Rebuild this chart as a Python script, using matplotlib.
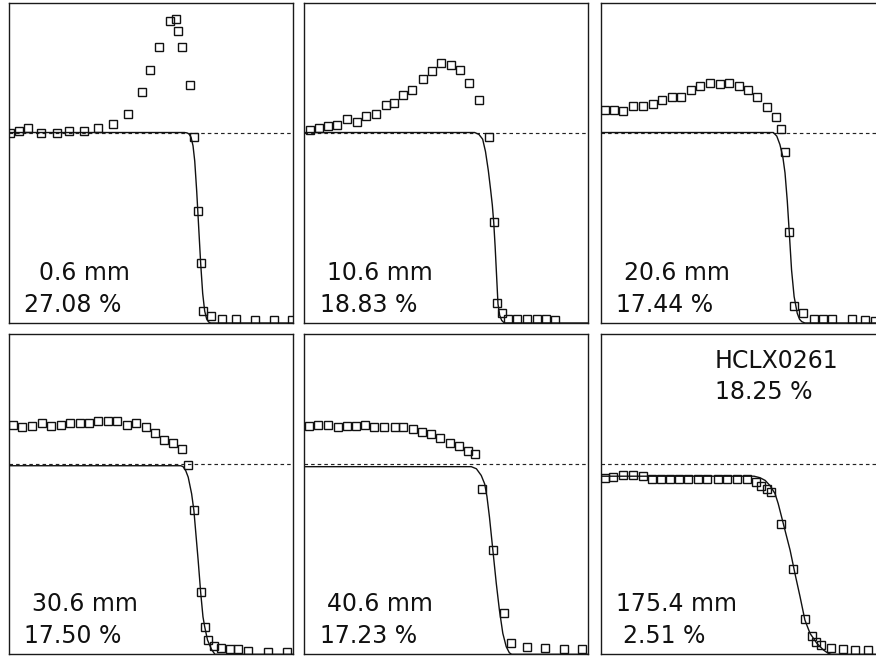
import matplotlib
matplotlib.use("Agg")
import matplotlib.pyplot as plt

plt.rcParams['font.family'] = ['DejaVu Sans']

# ---------------- data (x = fraction of scan width, y = relative level) ----------------
depth_labels = ["0.6 mm", "10.6 mm", "20.6 mm", "30.6 mm", "40.6 mm", "175.4 mm"]
pct_labels = ["27.08 %", "18.83 %", "17.44 %", "17.50 %", "17.23 %", "2.51 %"]
title_label = "HCLX0261"
title_pct = "18.25 %"
ref_level = 1.0

p1_x = [0.004, 0.035, 0.068, 0.111, 0.168, 0.211, 0.265, 0.315, 0.365, 0.418, 0.468, 0.498, 0.527, 0.566,
        0.588, 0.596, 0.609, 0.636, 0.651, 0.666, 0.675, 0.684, 0.710, 0.749, 0.798, 0.867, 0.932, 0.995]
p1_y = [1.000, 1.009, 1.025, 1.000, 1.000, 1.009, 1.009, 1.025, 1.046, 1.096, 1.214, 1.326, 1.451, 1.584,
        1.598, 1.533, 1.451, 1.251, 0.975, 0.590, 0.317, 0.065, 0.037, 0.019, 0.019, 0.014, 0.014, 0.014]
c1_x = [0.0, 0.618, 0.627, 0.634, 0.641, 0.648, 0.654, 0.661, 0.668, 0.675, 0.682, 0.689, 0.696, 0.703, 0.710, 1.0]
c1_y = [1.0, 1.0, 0.998, 0.992, 0.975, 0.93, 0.85, 0.69, 0.50, 0.31, 0.155, 0.063, 0.021, 0.005, 0.0, 0.0]

p2_x = [0.020, 0.052, 0.084, 0.114, 0.152, 0.184, 0.217, 0.251, 0.286, 0.316, 0.349, 0.379, 0.417, 0.448,
        0.482, 0.516, 0.548, 0.581, 0.616, 0.650, 0.667, 0.679, 0.696, 0.717, 0.749, 0.783, 0.818, 0.851, 0.881]
p2_y = [1.014, 1.026, 1.032, 1.039, 1.070, 1.053, 1.089, 1.098, 1.142, 1.154, 1.195, 1.225, 1.282, 1.321,
        1.365, 1.356, 1.326, 1.260, 1.172, 0.977, 0.528, 0.107, 0.051, 0.023, 0.019, 0.019, 0.019, 0.019, 0.014]
c2_x = [0.0, 0.600, 0.615, 0.628, 0.638, 0.648, 0.656, 0.662, 0.667, 0.672, 0.677, 0.682, 0.688, 0.695, 0.704, 1.0]
c2_y = [1.0, 1.0, 0.99, 0.965, 0.90, 0.80, 0.70, 0.62, 0.528, 0.40, 0.25, 0.10, 0.04, 0.014, 0.0, 0.0]

p3_x = [0.015, 0.047, 0.080, 0.115, 0.150, 0.183, 0.215, 0.250, 0.282, 0.317, 0.350, 0.385, 0.420, 0.452,
        0.486, 0.518, 0.549, 0.585, 0.616, 0.635, 0.650, 0.664, 0.679, 0.712, 0.750, 0.782, 0.816, 0.885,
        0.929, 0.966]
p3_y = [1.119, 1.119, 1.114, 1.137, 1.140, 1.151, 1.172, 1.189, 1.189, 1.225, 1.242, 1.260, 1.256, 1.260,
        1.246, 1.225, 1.186, 1.133, 1.084, 1.019, 0.897, 0.477, 0.089, 0.052, 0.021, 0.019, 0.019, 0.019,
        0.014, 0.011]
c3_x = [0.0, 0.608, 0.620, 0.631, 0.641, 0.649, 0.657, 0.664, 0.672, 0.681, 0.692, 0.700, 0.708, 0.719, 1.0]
c3_y = [1.0, 1.0, 0.981, 0.937, 0.875, 0.788, 0.64, 0.475, 0.279, 0.139, 0.051, 0.02, 0.007, 0.0, 0.0]

p4_x = [0.013, 0.047, 0.082, 0.116, 0.148, 0.182, 0.216, 0.249, 0.280, 0.314, 0.347, 0.381, 0.415, 0.448,
        0.481, 0.513, 0.545, 0.578, 0.608, 0.630, 0.650, 0.675, 0.690, 0.699, 0.722, 0.748, 0.777, 0.807,
        0.842, 0.912, 0.979]
p4_y = [1.204, 1.192, 1.201, 1.213, 1.201, 1.206, 1.213, 1.213, 1.213, 1.227, 1.227, 1.227, 1.204, 1.213,
        1.192, 1.162, 1.127, 1.110, 1.079, 0.996, 0.755, 0.325, 0.142, 0.077, 0.042, 0.031, 0.028, 0.026,
        0.019, 0.014, 0.014]
c4_x = [0.0, 0.605, 0.613, 0.622, 0.631, 0.643, 0.651, 0.666, 0.675, 0.683, 0.689, 0.699, 0.713, 0.725, 1.0]
c4_y = [0.99, 0.99, 0.985, 0.965, 0.930, 0.843, 0.755, 0.494, 0.323, 0.197, 0.145, 0.075, 0.026, 0.0, 0.0]

p5_x = [0.016, 0.049, 0.082, 0.117, 0.149, 0.181, 0.214, 0.247, 0.280, 0.319, 0.349, 0.382, 0.413, 0.446,
        0.478, 0.514, 0.546, 0.577, 0.601, 0.625, 0.664, 0.703, 0.729, 0.783, 0.848, 0.913, 0.977]
p5_y = [1.201, 1.206, 1.206, 1.192, 1.201, 1.201, 1.206, 1.192, 1.192, 1.192, 1.192, 1.183, 1.169, 1.154,
        1.136, 1.110, 1.093, 1.066, 1.052, 0.868, 0.546, 0.215, 0.061, 0.040, 0.031, 0.028, 0.028]
c5_x = [0.0, 0.588, 0.606, 0.623, 0.635, 0.643, 0.652, 0.664, 0.676, 0.687, 0.699, 0.711, 0.722, 0.730, 1.0]
c5_y = [0.985, 0.985, 0.974, 0.939, 0.895, 0.83, 0.72, 0.546, 0.372, 0.232, 0.110, 0.040, 0.008, 0.0, 0.0]

p6_x = [0.015, 0.045, 0.080, 0.115, 0.148, 0.180, 0.211, 0.244, 0.276, 0.309, 0.344, 0.376, 0.412, 0.446,
        0.479, 0.514, 0.546, 0.563, 0.585, 0.599, 0.636, 0.676, 0.719, 0.745, 0.757, 0.776, 0.812, 0.854,
        0.896, 0.942]
p6_y = [0.925, 0.930, 0.939, 0.942, 0.934, 0.921, 0.921, 0.921, 0.921, 0.921, 0.921, 0.921, 0.918, 0.918,
        0.918, 0.918, 0.904, 0.883, 0.866, 0.852, 0.682, 0.448, 0.184, 0.098, 0.066, 0.049, 0.031, 0.026,
        0.023, 0.023]
c6_x = [0.0, 0.540, 0.561, 0.579, 0.596, 0.614, 0.625, 0.637, 0.649, 0.667, 0.684, 0.702, 0.719, 0.737,
        0.761, 0.784, 0.801, 0.813, 1.0]
c6_y = [0.935, 0.935, 0.927, 0.913, 0.886, 0.843, 0.791, 0.721, 0.651, 0.546, 0.424, 0.302, 0.180, 0.110,
        0.058, 0.023, 0.005, 0.0, 0.0]

points = [(p1_x, p1_y), (p2_x, p2_y), (p3_x, p3_y), (p4_x, p4_y), (p5_x, p5_y), (p6_x, p6_y)]
curves = [(c1_x, c1_y), (c2_x, c2_y), (c3_x, c3_y), (c4_x, c4_y), (c5_x, c5_y), (c6_x, c6_y)]

# ---------------- layout ----------------
W, H = 876, 657
fig = plt.figure(figsize=(W / 100, H / 100), dpi=100)
fig.patch.set_facecolor("white")

col_left_px = [9, 304.3, 600.7]
row_bottom_px = [334, 2.7]
panel_w_px, panel_h_px = 284, 320

for i in range(6):
    r, c = divmod(i, 3)
    ax = fig.add_axes([col_left_px[c] / W, row_bottom_px[r] / H, panel_w_px / W, panel_h_px / H])
    ax.set_xlim(0, 1)
    ax.set_ylim(0, 1.68)
    ax.set_xticks([])
    ax.set_yticks([])
    for s in ax.spines.values():
        s.set_color("#1a1a1a")
        s.set_linewidth(1.0)

    ax.axhline(ref_level, color="#222222", lw=0.85, dashes=(3.0, 2.6), zorder=1)
    cx, cy = curves[i]
    ax.plot(cx, cy, color="#111111", lw=1.0, zorder=2)
    px, py = points[i]
    ax.plot(px, py, linestyle="none", marker="s", ms=6.2, mfc="none", mec="#111111", mew=1.0, zorder=3)

    ax.text(0.267, 0.135, depth_labels[i], transform=ax.transAxes, ha="center", va="baseline",
            fontsize=17, color="#111111")
    ax.text(0.225, 0.035, pct_labels[i], transform=ax.transAxes, ha="center", va="baseline",
            fontsize=17, color="#111111")
    if i == 5:
        ax.text(0.402, 0.896, title_label, transform=ax.transAxes, ha="left", va="baseline",
                fontsize=17, color="#111111")
        ax.text(0.402, 0.798, title_pct, transform=ax.transAxes, ha="left", va="baseline",
                fontsize=17, color="#111111")

fig.savefig("out.png", dpi=100, facecolor="white")
